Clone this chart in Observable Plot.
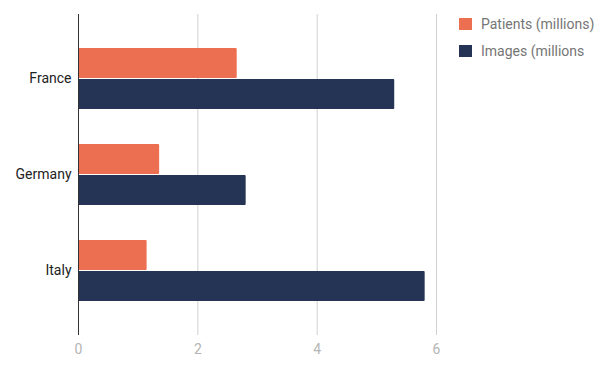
<!DOCTYPE html>
<html>
<head>
<meta charset="utf-8">
<script src="https://cdn.jsdelivr.net/npm/d3@7"></script>
<script src="https://cdn.jsdelivr.net/npm/@observablehq/plot@0.6"></script>
<style>
  body { margin: 0; background: #fff; }
  #wrap { position: relative; width: 612px; height: 373px; font-family: Roboto, sans-serif; }
  #legend { position: absolute; left: 459px; top: 10px; font-size: 14px; color: #757575; }
  .item { display: flex; align-items: center; height: 27px; }
  .sw { width: 13px; height: 12px; margin-right: 9px; }
</style>
</head>
<body>
<div id="wrap"><div id="legend"></div></div>
<script>
const countries = ["France", "Germany", "Italy"];
const seriesNames = ["Patients (millions)", "Images (millions"];
const colors = ["#ED6F51", "#253454"];
const patients = [2.66, 1.36, 1.15];
const images = [5.30, 2.81, 5.81];
const xTicks = [0, 2, 4, 6];

const patientsData = countries.map((c, i) => ({country: c, value: patients[i]}));
const imagesData = countries.map((c, i) => ({country: c, value: images[i]}));

const chart = Plot.plot({
  width: 612,
  height: 373,
  marginTop: 14,
  marginBottom: 38,
  marginLeft: 78,
  marginRight: 176,
  style: {fontFamily: "Roboto, sans-serif", background: "transparent"},
  x: {domain: [0, 6], ticks: xTicks, label: null},
  y: {domain: countries, paddingInner: 0.368, paddingOuter: 0.347, label: null},
  marks: [
    Plot.gridX(xTicks, {stroke: "#d0d0d0", strokeOpacity: 1}),
    Plot.barX(patientsData, {y: "country", x: "value", fill: colors[0], insetBottom: 31, rx: 1}),
    Plot.barX(imagesData, {y: "country", x: "value", fill: colors[1], insetTop: 31, rx: 1}),
    Plot.ruleX([0], {stroke: "#333"}),
    Plot.axisX(xTicks, {tickSize: 0, tickPadding: 9, fontSize: 14, color: "#b5b5b5", label: null}),
    Plot.axisY({tickSize: 0, tickPadding: 7, fontSize: 14, color: "#222", label: null})
  ]
});
document.getElementById("wrap").prepend(chart);

const legend = document.getElementById("legend");
seriesNames.forEach((name, i) => {
  const item = document.createElement("div");
  item.className = "item";
  const sw = document.createElement("div");
  sw.className = "sw";
  sw.style.background = colors[i];
  const t = document.createElement("span");
  t.textContent = name;
  item.append(sw, t);
  legend.append(item);
});
</script>
</body>
</html>
